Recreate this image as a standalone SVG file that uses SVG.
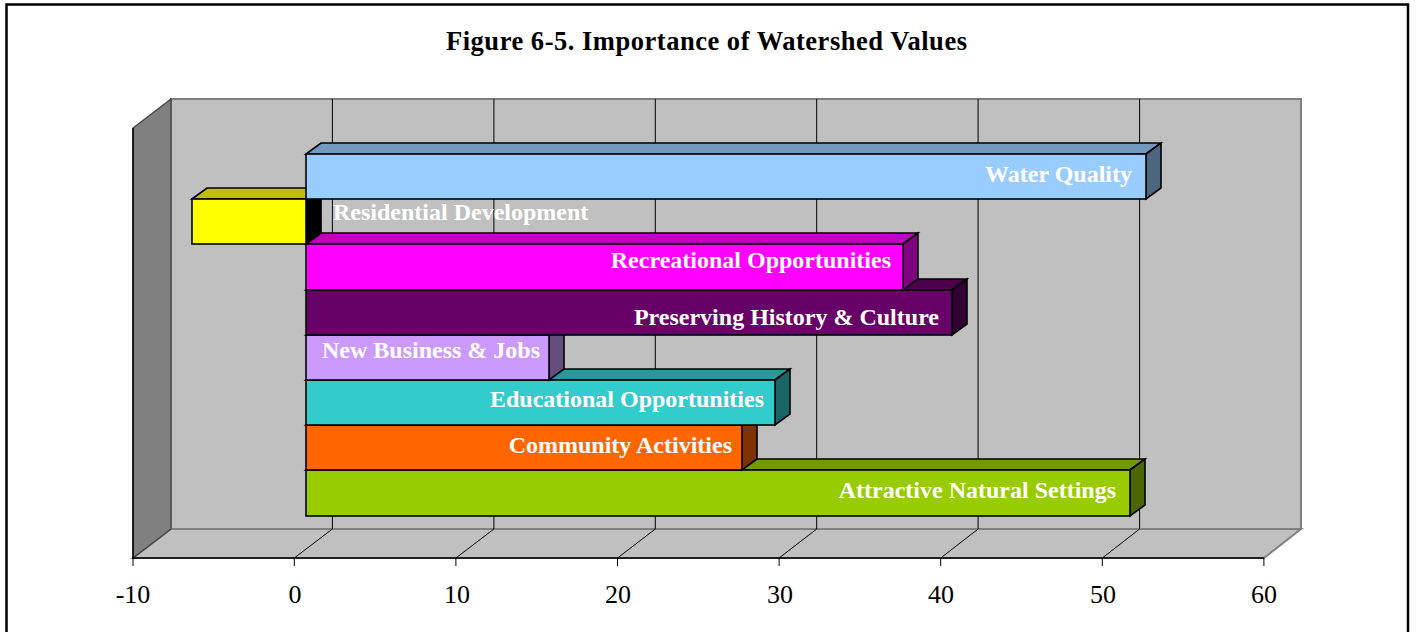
<svg xmlns="http://www.w3.org/2000/svg" width="1416" height="632" viewBox="0 0 1416 632">
<style>
.grid{stroke:#000;stroke-width:1;fill:none}
.bar{stroke:#000;stroke-width:1.6;stroke-linejoin:miter}
.lbl{font-family:"Liberation Serif","Times New Roman",serif;font-weight:bold;font-size:24px;fill:#fff}
.ax{font-family:"Liberation Serif","Times New Roman",serif;font-size:26px;fill:#000;text-anchor:middle}
.title{font-family:"Liberation Serif","Times New Roman",serif;font-weight:bold;font-size:26.5px;fill:#000;text-anchor:middle}
</style>
<rect x="0" y="0" width="1416" height="632" fill="#fff"/>
<rect x="6.5" y="4.5" width="1401.5" height="640" fill="#fff" stroke="#000" stroke-width="2.5"/>
<g id="title"><text class="title" x="706.5" y="50" textLength="521" lengthAdjust="spacing">Figure 6-5. Importance of Watershed Values</text></g>
<g id="walls">
<polygon points="171,99 1301,99 1301,529 171,529" fill="#C0C0C0" stroke="#808080" stroke-width="2"/>
<polygon points="133,558 171,529 1301,529 1264,558" fill="#C0C0C0" stroke="#808080" stroke-width="2"/>
<polygon points="133,128 171,99 171,529 133,558" fill="#808080" stroke="#404040" stroke-width="1.2"/>
<line x1="133" y1="128" x2="133" y2="558" stroke="#000" stroke-width="1.5"/>
<line x1="133" y1="558" x2="1264" y2="558" stroke="#000" stroke-width="1.5"/>
</g>
<g id="gridlines" class="grid">
<path d="M332.4,99V529L294.3,558M493.9,99V529L455.9,558M655.3,99V529L617.5,558M816.7,99V529L779.1,558M978.1,99V529L940.7,558M1139.6,99V529L1102.3,558"/>
<path d="M133,558v8M294.3,558v8M455.9,558v8M617.5,558v8M779.1,558v8M940.7,558v8M1102.3,558v8M1263.9,558v8"/>
</g>
<g id="axis-labels">
<text class="ax" x="133" y="603">-10</text>
<text class="ax" x="295" y="603">0</text>
<text class="ax" x="457" y="603">10</text>
<text class="ax" x="618" y="603">20</text>
<text class="ax" x="780" y="603">30</text>
<text class="ax" x="941" y="603">40</text>
<text class="ax" x="1103" y="603">50</text>
<text class="ax" x="1264" y="603">60</text>
</g>
<g id="bar-attractive">
<polygon class="bar" fill="#739900" points="306,470 321,459 1145,459 1130,470"/>
<polygon class="bar" fill="#4D6600" points="1130,470 1145,459 1145,505 1130,516"/>
<rect class="bar" fill="#99CC00" x="306" y="470" width="824" height="46"/>
<text class="lbl" x="1116" y="498" text-anchor="end">Attractive Natural Settings</text>
</g>
<g id="bar-community">
<polygon class="bar" fill="#BF4C00" points="306,425 321,414 757,414 742,425"/>
<polygon class="bar" fill="#803300" points="742,425 757,414 757,459 742,470"/>
<rect class="bar" fill="#FF6600" x="306" y="425" width="436" height="45"/>
<text class="lbl" x="732" y="453" text-anchor="end">Community Activities</text>
</g>
<g id="bar-educational">
<polygon class="bar" fill="#269999" points="306,380 321,369 790,369 775,380"/>
<polygon class="bar" fill="#1A6666" points="775,380 790,369 790,414 775,425"/>
<rect class="bar" fill="#33CCCC" x="306" y="380" width="469" height="45"/>
<text class="lbl" x="764" y="407" text-anchor="end">Educational Opportunities</text>
</g>
<g id="bar-newbusiness">
<polygon class="bar" fill="#9973BF" points="306,335 321,324 564,324 549,335"/>
<polygon class="bar" fill="#664D80" points="549,335 564,324 564,369 549,380"/>
<rect class="bar" fill="#CC99FF" x="306" y="335" width="243" height="45"/>
<text class="lbl" x="540" y="358" text-anchor="end">New Business &amp; Jobs</text>
</g>
<g id="bar-preserving">
<polygon class="bar" fill="#4C004C" points="306,290 321,279 967,279 952,290"/>
<polygon class="bar" fill="#330033" points="952,290 967,279 967,324 952,335"/>
<rect class="bar" fill="#660066" x="306" y="290" width="646" height="45"/>
<text class="lbl" x="939" y="325" text-anchor="end">Preserving History &amp; Culture</text>
</g>
<g id="bar-recreational">
<polygon class="bar" fill="#BF00BF" points="306,244 321,233 918,233 903,244"/>
<polygon class="bar" fill="#800080" points="903,244 918,233 918,279 903,290"/>
<rect class="bar" fill="#FF00FF" x="306" y="244" width="597" height="46"/>
<text class="lbl" x="891" y="268" text-anchor="end">Recreational Opportunities</text>
</g>
<g id="bar-residential">
<polygon class="bar" fill="#BFBF00" points="192,199 207,188 321,188 306,199"/>
<polygon class="bar" fill="#000000" points="306,199 321,188 321,233 306,244"/>
<rect class="bar" fill="#FFFF00" x="192" y="199" width="114" height="45"/>
<text class="lbl" x="333" y="220">Residential Development</text>
</g>
<g id="bar-waterquality">
<polygon class="bar" fill="#7399BF" points="306,154 321,143 1161,143 1146,154"/>
<polygon class="bar" fill="#4D6680" points="1146,154 1161,143 1161,188 1146,199"/>
<rect class="bar" fill="#99CCFF" x="306" y="154" width="840" height="45"/>
<text class="lbl" x="1132" y="182" text-anchor="end">Water Quality</text>
</g>
</svg>
